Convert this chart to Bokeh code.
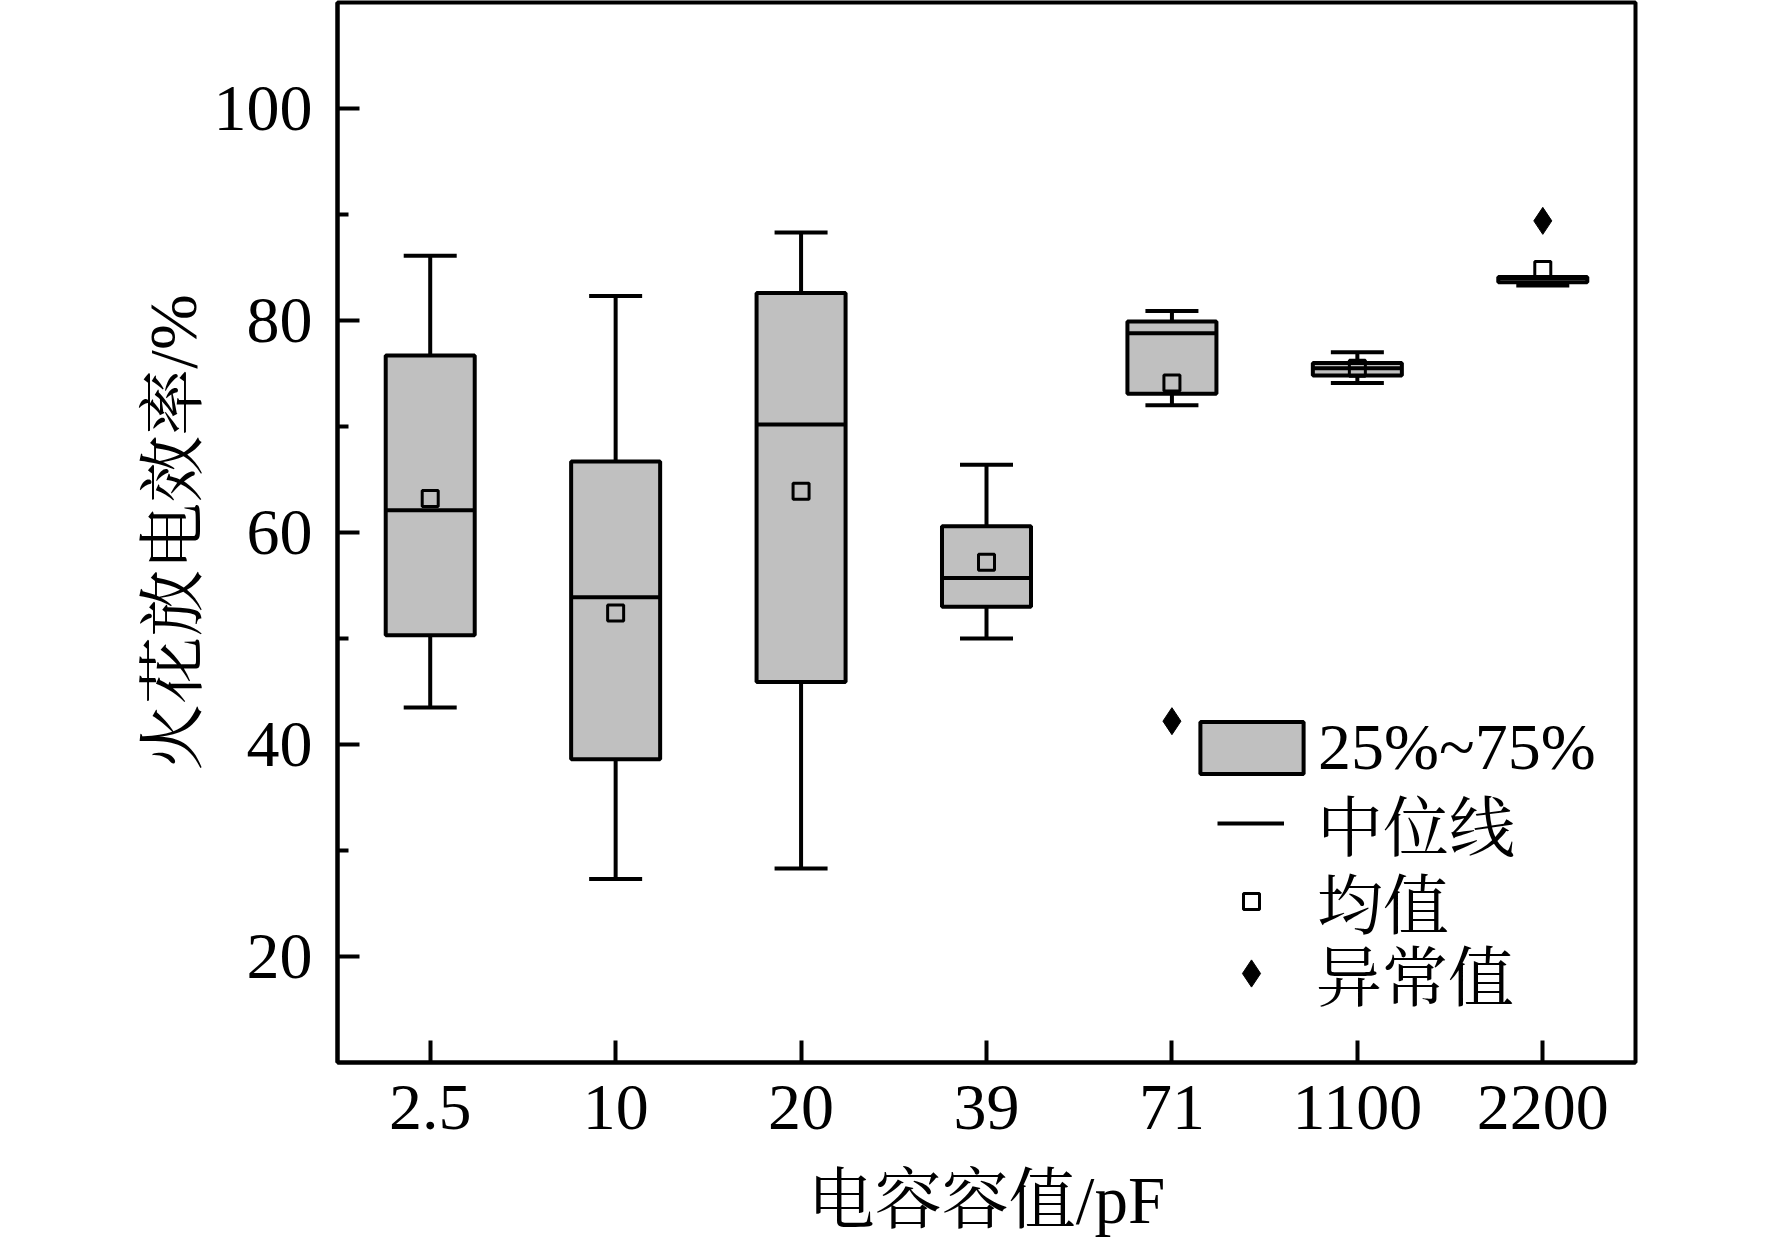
from bokeh.plotting import figure
from bokeh.models import Range1d, FixedTicker, Legend, LegendItem, ColumnDataSource
from bokeh.embed import file_html
from bokeh.resources import INLINE

# ---- data ----
categories = ["2.5", "10", "20", "39", "71", "1100", "2200"]
whisker_low = [43.5, 27.3, 28.3, 50.0, 72.0, 74.1, 83.3]
q1 = [50.3, 38.6, 45.9, 53.0, 73.1, 74.8, 83.6]
median = [62.1, 53.9, 70.2, 55.7, 78.8, 75.5, 84.0]
q3 = [76.7, 66.7, 82.6, 60.6, 79.9, 76.0, 84.1]
whisker_high = [86.1, 82.3, 88.3, 66.4, 80.9, 77.0, 84.1]
mean = [63.2, 52.4, 63.9, 57.2, 74.1, 75.5, 84.8]
outlier_cat = ["71", "2200"]
outlier_val = [42.2, 89.4]
y_ticks = [20, 40, 60, 80, 100]
y_minor = [30, 50, 70, 90]

x_title = "电容容值/pF"
y_title = "火花放电效率/%"
legend_labels = ["25%~75%", "中位线", "均值", "异常值"]

SERIF = "'Liberation Serif', 'Noto Serif CJK SC', 'Noto Sans CJK SC'"
BOX_FILL = "#c0c0c0"
LW = 4
BOX_W = 0.48

xpos = list(range(len(categories)))
src = ColumnDataSource(dict(
    x=xpos, lo=whisker_low, q1=q1, med=median, q3=q3, hi=whisker_high, mean=mean,
    mx0=[x - BOX_W / 2 for x in xpos], mx1=[x + BOX_W / 2 for x in xpos],
))
out_src = ColumnDataSource(dict(x=[categories.index(c) for c in outlier_cat], y=outlier_val))

p = figure(frame_width=1298, frame_height=1060,
           x_range=Range1d(-0.5, 6.5), y_range=Range1d(10, 110),
           output_backend="svg", toolbar_location=None,
           min_border_left=337, min_border_right=110, min_border_top=2, min_border_bottom=0)
p.background_fill_color = "white"
p.border_fill_color = "white"
p.outline_line_color = "black"
p.outline_line_width = LW
p.xgrid.visible = False
p.ygrid.visible = False

# whiskers
p.segment(x0="x", y0="q3", x1="x", y1="hi", source=src, line_color="black", line_width=LW)
p.segment(x0="x", y0="q1", x1="x", y1="lo", source=src, line_color="black", line_width=LW)
p.scatter(x="x", y="hi", source=src, marker="dash", size=53, line_color="black", line_width=LW)
p.scatter(x="x", y="lo", source=src, marker="dash", size=53, line_color="black", line_width=LW)
# boxes
box_r = p.vbar(x="x", width=BOX_W, bottom="q1", top="q3", source=src,
               fill_color=BOX_FILL, line_color="black", line_width=LW)
med_r = p.segment(x0="mx0", y0="med", x1="mx1", y1="med", source=src,
                  line_color="black", line_width=LW)
mean_r = p.scatter(x="x", y="mean", source=src, marker="square", size=16,
                   fill_alpha=0, line_color="black", line_width=3)
out_r = p.scatter(x="x", y="y", source=out_src, marker="diamond", size=27,
                  fill_color="black", line_color="black", line_width=1)

# axes
for ax in (p.xaxis, p.yaxis):
    ax.axis_line_width = LW
    ax.major_tick_line_width = LW
    ax.minor_tick_line_width = LW
    ax.major_tick_in = 22
    ax.major_tick_out = 0
    ax.minor_tick_in = 11
    ax.minor_tick_out = 0
    ax.major_label_text_font = SERIF
    ax.major_label_text_font_size = "66px"
    ax.major_label_text_color = "black"
    ax.axis_label_text_font = SERIF
    ax.axis_label_text_font_size = "67px"
    ax.axis_label_text_font_style = "normal"
    ax.axis_label_text_color = "black"

p.xaxis.ticker = FixedTicker(ticks=xpos, minor_ticks=[])
p.xaxis.major_label_overrides = {x: c for x, c in zip(xpos, categories)}
p.xaxis.major_label_standoff = 23
p.xaxis.axis_label = x_title
p.xaxis.axis_label_standoff = 31

p.yaxis.ticker = FixedTicker(ticks=y_ticks, minor_ticks=y_minor)
p.yaxis.major_label_standoff = 25
p.yaxis.axis_label = y_title
p.yaxis.axis_label_standoff = 1


def make_legend(label, renderer, loc, gw, gh, standoff):
    lg = Legend(items=[LegendItem(label=label, renderers=[renderer])], location=loc,
                glyph_width=gw, glyph_height=gh, label_standoff=standoff,
                padding=0, margin=0, spacing=0,
                border_line_alpha=0, background_fill_alpha=0,
                label_text_font=SERIF, label_text_font_size="66px",
                label_text_color="black")
    p.add_layout(lg)


make_legend(legend_labels[0], box_r, (850, 277), 129, 65, 2)
make_legend(legend_labels[1], med_r, (880, 192), 67, 40, 33)
make_legend(legend_labels[2], mean_r, (894, 114), 40, 40, 46)
make_legend(legend_labels[3], out_r, (880, 42), 68, 68, 31)

open("out.html", "w").write(file_html(p, INLINE))
